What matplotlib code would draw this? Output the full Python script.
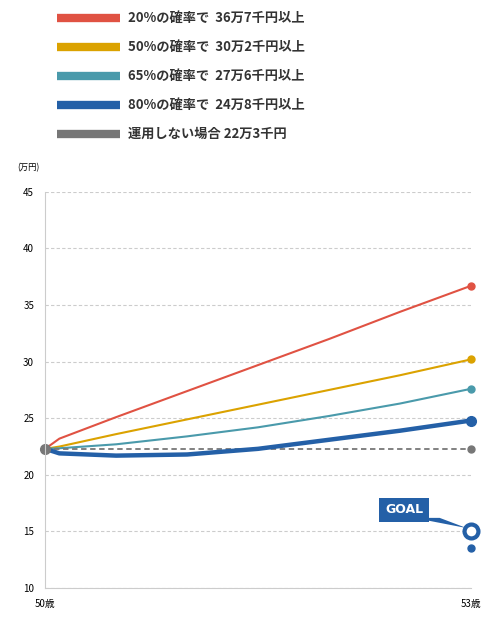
import matplotlib
matplotlib.use("Agg")
import matplotlib.pyplot as plt
from matplotlib.patches import Polygon

plt.rcParams['font.family'] = ['Noto Sans CJK JP', 'DejaVu Sans']

years = [50, 50.1, 50.5, 51, 51.5, 52, 52.5, 53]
red = [22.3, 23.2, 25.1, 27.4, 29.7, 32.0, 34.4, 36.7]
yellow = [22.3, 22.5, 23.6, 24.9, 26.2, 27.5, 28.8, 30.2]
teal = [22.3, 22.35, 22.7, 23.4, 24.2, 25.2, 26.3, 27.6]
blue = [22.3, 21.9, 21.7, 21.8, 22.3, 23.1, 23.9, 24.8]
gray = [22.3] * len(years)
labels = ["20%の確率で  36万7千円以上", "50%の確率で  30万2千円以上",
          "65%の確率で  27万6千円以上", "80%の確率で  24万8千円以上",
          "運用しない場合 22万3千円"]
colors = ["#e05243", "#dba200", "#4a9aab", "#2460a7", "#777777"]
yticks = [10, 15, 20, 25, 30, 35, 40, 45]

fig = plt.figure(figsize=(4.91, 6.19), dpi=100)
ax = fig.add_axes([0.092, 0.050, 0.867, 0.640])
ax.plot(years, red, color=colors[0], lw=1.5)
ax.plot(years, yellow, color=colors[1], lw=1.5)
ax.plot(years, teal, color=colors[2], lw=1.5)
ax.plot(years, gray, color=colors[4], lw=1.3, ls=(0, (3, 2)))
ax.plot(years, blue, color=colors[3], lw=3.2)
for s, c, ms in [(red, colors[0], 5), (yellow, colors[1], 5), (teal, colors[2], 5), (gray, colors[4], 5), (blue, colors[3], 7)]:
    ax.plot([years[-1]], [s[-1]], 'o', color=c, ms=ms, clip_on=False)
ax.plot([50], [22.3], 'o', color=colors[4], ms=7, clip_on=False)

# goal marker
ax.plot([53], [15], 'o', ms=10, mfc='white', mec=colors[3], mew=3, clip_on=False)
ax.plot([53], [13.5], 'o', ms=5, color=colors[3], clip_on=False)
ax.text(52.53, 16.9, "GOAL", ha='center', va='center', color='white', fontsize=9, fontweight='bold',
        family=['DejaVu Sans'],
        bbox=dict(boxstyle='square,pad=0.45', fc=colors[3], ec='none'))
ax.add_patch(Polygon([[52.6, 16.2], [52.78, 16.2], [52.97, 15.3]], closed=True, fc=colors[3], ec='none'))

ax.set_xlim(50, 53)
ax.set_ylim(10, 45)
ax.set_yticks(yticks)
ax.set_xticks([50, 53])
ax.set_xticklabels(["50歳", "53歳"], fontsize=7)
ax.tick_params(axis='y', labelsize=7, length=0, pad=8)
ax.tick_params(axis='x', length=0, pad=8)
ax.grid(axis='y', color='#cccccc', ls=(0, (3, 2)), lw=0.8)
for k in ['top', 'right']:
    ax.spines[k].set_visible(False)
for k in ['left', 'bottom']:
    ax.spines[k].set_color('#cccccc')
fig.text(0.035, 0.725, "(万円)", fontsize=6)

for i, (lab, c) in enumerate(zip(labels, colors)):
    y = 1 - (18 + 29 * i) / 619
    fig.add_artist(plt.Line2D([57/491, 120/491], [y, y], color=c, lw=6, solid_capstyle='butt'))
    fig.text(128/491, y, lab, fontsize=9.5, fontweight='bold', va='center', color='#333333')

fig.savefig("out.png", dpi=100)
